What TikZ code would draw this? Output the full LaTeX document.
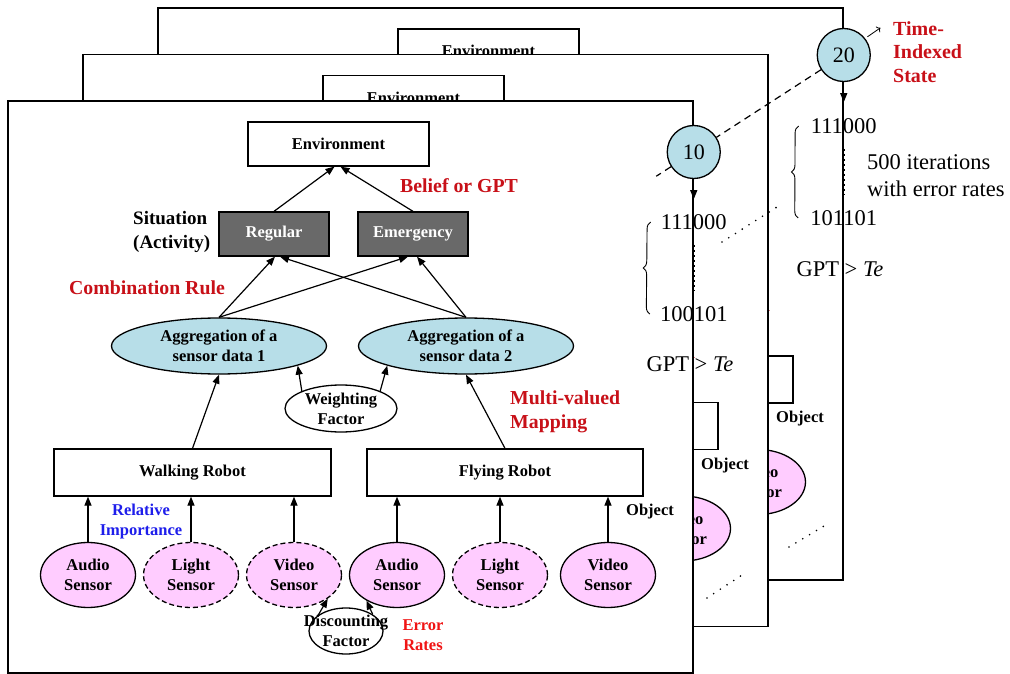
\documentclass[tikz,border=0pt]{standalone}
\usepackage{fontspec}
\setmainfont{Liberation Serif}
\usetikzlibrary{shapes.geometric,arrows.meta,calc,decorations.pathreplacing}
\definecolor{aggblue}{RGB}{183,222,232}
\definecolor{sensorpink}{RGB}{255,204,255}
\definecolor{sitgray}{RGB}{105,105,105}
\definecolor{labelred}{RGB}{200,16,24}
\definecolor{errred}{RGB}{240,20,20}
\definecolor{labelblue}{RGB}{30,30,235}
\newcommand\boldtext{\bfseries\fontsize{16.5}{20}\selectfont}
\tikzset{
  panel/.style={draw,line width=1.5pt,fill=white,minimum width=685pt,minimum height=572pt,inner sep=0pt},
  robotbox/.style={draw,line width=1.3pt,fill=white,inner sep=0pt,font=\boldtext},
  sitbox/.style={robotbox,fill=sitgray,text=white,minimum width=110pt,minimum height=44pt},
  agg/.style={ellipse,draw,line width=1.3pt,fill=aggblue,minimum width=215pt,minimum height=56pt,inner sep=0pt,align=center,font=\boldtext},
  sensor/.style={ellipse,draw,line width=1.3pt,fill=sensorpink,minimum width=95pt,minimum height=65pt,inner sep=0pt,align=center,font=\boldtext},
  weak/.style={sensor,dash pattern=on 5pt off 3pt},
  factor/.style={ellipse,draw,line width=1.3pt,fill=white,inner sep=0pt,align=center,font=\boldtext},
  plainlabel/.style={align=center,inner sep=1pt,font=\boldtext},
  redlabel/.style={text=labelred,align=left,inner sep=1pt,font=\bfseries\fontsize{19.8}{24}\selectfont},
  bluelabel/.style={plainlabel,text=labelblue},
  errlabel/.style={plainlabel,text=errred},
  arr/.style={-{Triangle[length=9pt,width=7pt]},line width=1.2pt},
  tstate/.style={circle,draw,line width=1.3pt,fill=aggblue,minimum size=53pt,inner sep=0pt,font=\fontsize{22}{24}\selectfont},
  numtext/.style={inner sep=1pt,align=left,font=\fontsize{22.5}{27}\selectfont},
  brace/.style={decorate,decoration={brace,amplitude=7pt},line width=0.9pt},
  dots/.style={line width=1.8pt,line cap=round,dash pattern=on 0pt off 8pt},
  linedots/.style={line width=2.5pt,dash pattern=on 2pt off 3pt}
}
% one sheet of the stack
\newcommand\robotpanel{%
  \node[panel] (frame) at (350.5,387) {};
  \node[robotbox,minimum width=181pt,minimum height=44pt] (env) at (338.5,144) {Environment};
  \node[sitbox] (reg) at (274,234) {Regular};
  \node[sitbox] (emg) at (413,234) {Emergency};
  \node[redlabel,text=black,font=\bfseries\fontsize{19}{24}\selectfont,anchor=west] (sit) at (132,232) {Situation\\(Activity)};
  \node[redlabel,anchor=west] (belief) at (399,186) {Belief or GPT};
  \node[redlabel] (comb) at (147,288) {Combination Rule};
  \node[agg] (agg1) at (219,346) {Aggregation of a\\sensor data 1};
  \node[agg] (agg2) at (466,346) {Aggregation of a\\sensor data 2};
  \node[factor,minimum width=112pt,minimum height=47pt] (weight) at (341,408.5) {Weighting\\Factor};
  \node[redlabel,anchor=west] (mapping) at (509,412) {Multi-valued\\Mapping};
  \node[robotbox,minimum width=277pt,minimum height=47pt] (walk) at (192.5,472.5) {Walking Robot};
  \node[robotbox,minimum width=276pt,minimum height=47pt] (fly) at (505,472.5) {Flying Robot};
  \node[plainlabel] (object) at (650,512) {Object};
  \node[bluelabel] (relimp) at (141,522) {Relative\\Importance};
  \node[sensor] (s1) at (88,575) {Audio\\Sensor};
  \node[weak] (s2) at (191,575) {Light\\Sensor};
  \node[weak] (s3) at (294,575) {Video\\Sensor};
  \node[sensor] (s4) at (397,575) {Audio\\Sensor};
  \node[weak] (s5) at (500,575) {Light\\Sensor};
  \node[sensor] (s6) at (608,575) {Video\\Sensor};
  \node[factor,minimum width=74pt,minimum height=46pt] (disc) at (346,631) {};
  \node[plainlabel] (disctext) at (disc) {Discounting\\Factor};
  \node[errlabel] (err) at (423,635) {Error\\Rates};
  \draw[arr] (reg.north) -- ([xshift=-4pt]env.south);
  \draw[arr] (emg.north) -- ([xshift=2pt]env.south);
  \draw[arr] (agg1.north) -- ([xshift=1pt]reg.south);
  \draw[arr] (agg2.north) -- ([xshift=6pt]reg.south);
  \draw[arr] (agg1.north) -- ([xshift=-5pt]emg.south);
  \draw[arr] (agg2.north) -- ([xshift=4pt]emg.south);
  \draw[arr] (walk.north) -- (agg1.south);
  \draw[arr] (fly.north) -- (agg2.south);
  \draw[arr] (weight.156) -- (agg1.-14);
  \draw[arr] (weight.24) -- (agg2.194);
  \foreach \s in {s1,s2,s3} \draw[arr] (\s.north) -- (\s.north |- walk.south);
  \foreach \s in {s4,s5,s6} \draw[arr] (\s.north) -- (\s.north |- fly.south);
  \draw[arr] (disc.150) -- (s3.-35);
  \draw[arr] (disc.32) -- (s4.220);
}
\begin{document}
\begin{tikzpicture}[x=1pt,y=-1pt]
\useasboundingbox (0,0) rectangle (1010,674);
\begin{scope}[shift={(150,-93)},name prefix=b-]
\robotpanel
\end{scope}
\begin{scope}[shift={(75,-46.5)},name prefix=m-]
\robotpanel
\end{scope}
\begin{scope}[name prefix=f-]
\robotpanel
\end{scope}
% time-indexed states
\node[tstate] (t20) at (b-frame.east |- 0,55) {20};
\node[tstate] (t10) at (f-frame.east |- 0,152) {10};
\coordinate (dashend) at ($(t20)!1.25!(t10)$);
\draw[line width=1.2pt,dash pattern=on 7pt off 5pt] (t20) -- (t10) (t10) -- (dashend);
\path (t20.45) ++(4.5,1) coordinate (tk1) ++(13,-9) coordinate (tk2);
\draw[->,line width=0.8pt] (tk1) -- (tk2);
\node[redlabel,anchor=west,font=\bfseries\fontsize{20}{23.5}\selectfont] (tlabel) at (892,52) {Time-\\Indexed\\State};
\path (t20.south) ++(0,20) coordinate (t20a);
\path (t10.south) ++(0,20) coordinate (t10a);
\draw[arr] (t20.south) -- (t20a);
\draw[arr] (t10.south) -- (t10a);
\node[numtext] (n111a) at (t20 |- 0,126) {111000};
\node[numtext] (n101a) at (t20 |- 0,218) {101101};
\draw[linedots] ([yshift=-14pt]n111a.south) -- ([yshift=14pt]n101a.north);
\draw[brace] ([xshift=-11pt]n101a.west) -- ([xshift=-11pt]n111a.west);
\node[numtext,anchor=west] (iter) at (866,176) {500 iterations\\with error rates};
\node[numtext] (gpt20) at (840,269) {GPT > \textit{Te}};
\node[numtext] (n111b) at (t10 |- 0,222) {111000};
\node[numtext] (n100b) at (t10 |- 0,314) {100101};
\draw[linedots] ([yshift=-14pt]n111b.south) -- ([yshift=14pt]n100b.north);
\draw[brace] ([xshift=-9pt]n100b.west) -- ([xshift=-9pt]n111b.west);
\node[numtext] (gpt10) at (690,364) {GPT > \textit{Te}};
\draw[dots] (722,242) -- (777,207);
\draw[dots] (707,598) -- (742,575);
\draw[dots] (789,547) -- (824,526);
\end{tikzpicture}
\end{document}
